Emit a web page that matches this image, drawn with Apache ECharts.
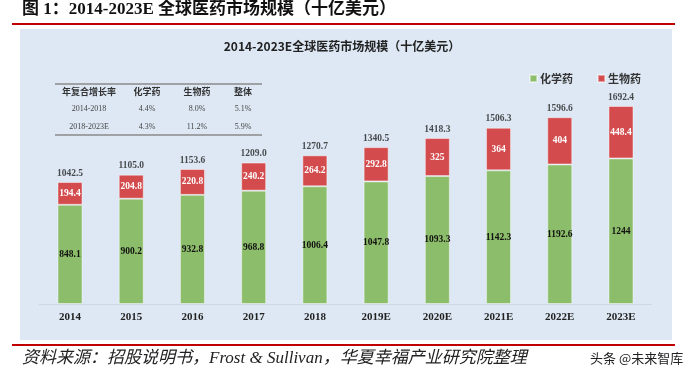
<!DOCTYPE html>
<html>
<head>
<meta charset="utf-8">
<script src="https://cdn.jsdelivr.net/npm/echarts@6/dist/echarts.min.js"></script>
<style>
html,body{margin:0;padding:0;background:#fff;}
#main{width:691px;height:376px;}
</style>
</head>
<body>
<div id="main"></div>
<script>
// 数据
var years = ['2014', '2015', '2016', '2017', '2018', '2019E', '2020E', '2021E', '2022E', '2023E'];
var chem = [848.1, 900.2, 932.8, 968.8, 1006.4, 1047.8, 1093.3, 1142.3, 1192.6, 1244];
var bio = [194.4, 204.8, 220.8, 240.2, 264.2, 292.8, 325, 364, 404, 448.4];
var totals = [1042.5, 1105.0, 1153.6, 1209.0, 1270.7, 1340.5, 1418.3, 1506.3, 1596.6, 1692.4];
var totalLabels = ['1042.5', '1105.0', '1153.6', '1209.0', '1270.7', '1340.5', '1418.3', '1506.3', '1596.6', '1692.4'];
var chemLabels = ['848.1', '900.2', '932.8', '968.8', '1006.4', '1047.8', '1093.3', '1142.3', '1192.6', '1244'];
// 年复合增长率表
var cagrHead = ['年复合增长率', '化学药', '生物药', '整体'];
var cagrRows = [
	['2014-2018', '4.4%', '8.0%', '5.1%'],
	['2018-2023E', '4.3%', '11.2%', '5.9%']
];

var serif = "'Liberation Serif', 'Times New Roman', 'Noto Sans CJK SC', serif";
var cjk = "'Noto Sans CJK SC', sans-serif";

var myChart = echarts.init(document.getElementById('main'));

//表格
var colX = [89, 147, 197, 243];
var rowY = [109, 127];
var tableEls = [];
tableEls.push({type: 'line', shape: {x1: 55, y1: 84, x2: 262, y2: 84}, style: {stroke: '#8a8a8a', lineWidth: 1.5}});
tableEls.push({type: 'line', shape: {x1: 55, y1: 135, x2: 262, y2: 135}, style: {stroke: '#8a8a8a', lineWidth: 1.5}});
for(var c = 0; c < cagrHead.length; c++) {
	tableEls.push({
		type: 'text', x: colX[c], y: 92,
		style: {text: cagrHead[c], fill: '#333', font: 'bold 9px ' + cjk, textAlign: 'center', textVerticalAlign: 'middle'}
	});
	for(var r = 0; r < cagrRows.length; r++) {
		tableEls.push({
			type: 'text', x: colX[c], y: rowY[r],
			style: {text: cagrRows[r][c], fill: '#444', font: '8px ' + serif, textAlign: 'center', textVerticalAlign: 'middle'}
		});
	}
}

var option = {
	animation: false,
	grid: {left: 39.4, right: 39.4, top: 70, bottom: 72},
	legend: {
		data: ['化学药', '生物药'],
		left: 529, top: 73, padding: 0,
		itemWidth: 7, itemHeight: 7, itemGap: 24,
		icon: 'rect',
		textStyle: {fontFamily: cjk, fontSize: 11, fontWeight: 'bold', color: '#333', padding: [0, 0, 0, -2]}
	},
	xAxis: {
		type: 'category',
		data: years,
		axisTick: {show: false},
		axisLine: {lineStyle: {color: '#ccd7e3', width: 1}},
		axisLabel: {margin: 8, color: '#222', fontFamily: serif, fontWeight: 'bold', fontSize: 11}
	},
	yAxis: {type: 'value', min: 0, max: 2000, show: false, splitLine: {show: false}},
	graphic: [
		{type: 'rect', z: -10, shape: {x: 20, y: 29, width: 652, height: 311}, style: {fill: '#dde8f4'}},
		{type: 'line', shape: {x1: 12, y1: 24, x2: 675, y2: 24}, style: {stroke: '#c00000', lineWidth: 2}},
		{type: 'line', shape: {x1: 12, y1: 345, x2: 675, y2: 345}, style: {stroke: '#c00000', lineWidth: 2}},
		{type: 'text', x: 22, y: 10, style: {text: '图 1：2014-2023E 全球医药市场规模（十亿美元）', fill: '#111', font: 'bold 17px ' + serif, textVerticalAlign: 'middle'}},
		{type: 'text', x: 342, y: 46, style: {text: '2014-2023E全球医药市场规模（十亿美元）', fill: '#222', font: 'bold 12px ' + cjk, textAlign: 'center', textVerticalAlign: 'middle'}},
		{type: 'text', x: 22, y: 359, style: {text: '资料来源：招股说明书，Frost & Sullivan，华夏幸福产业研究院整理', fill: '#222', font: 'italic 17px ' + serif, textVerticalAlign: 'middle'}},
		{type: 'text', x: 590, y: 358, style: {text: '头条 @未来智库', fill: '#222', font: '13px ' + cjk, textVerticalAlign: 'middle'}},
		{type: 'group', children: tableEls}
	],
	series: [{
		name: '化学药',
		type: 'bar',
		stack: 'a',
		barWidth: 25,
		data: chem,
		itemStyle: {color: '#8cbd6a', borderColor: 'rgba(255,255,255,0.45)', borderWidth: 1},
		label: {
			show: true, position: 'inside', color: '#111', fontFamily: serif, fontWeight: 'bold', fontSize: 9.5,
			formatter: function(p) { return chemLabels[p.dataIndex]; }
		}
	}, {
		name: '生物药',
		type: 'bar',
		stack: 'a',
		barWidth: 25,
		data: bio,
		itemStyle: {color: '#d44b4d', borderColor: 'rgba(255,255,255,0.45)', borderWidth: 1},
		label: {show: true, position: 'inside', color: '#fff', fontFamily: serif, fontWeight: 'bold', fontSize: 9.5}
	}, {
		name: '合计',
		type: 'scatter',
		data: totals,
		symbolSize: 0,
		silent: true,
		label: {
			show: true, position: 'top', distance: 4, color: '#222', fontFamily: serif, fontWeight: 'bold', fontSize: 9.5,
			formatter: function(p) { return totalLabels[p.dataIndex]; }
		}
	}]
};

myChart.setOption(option);
</script>
</body>
</html>
